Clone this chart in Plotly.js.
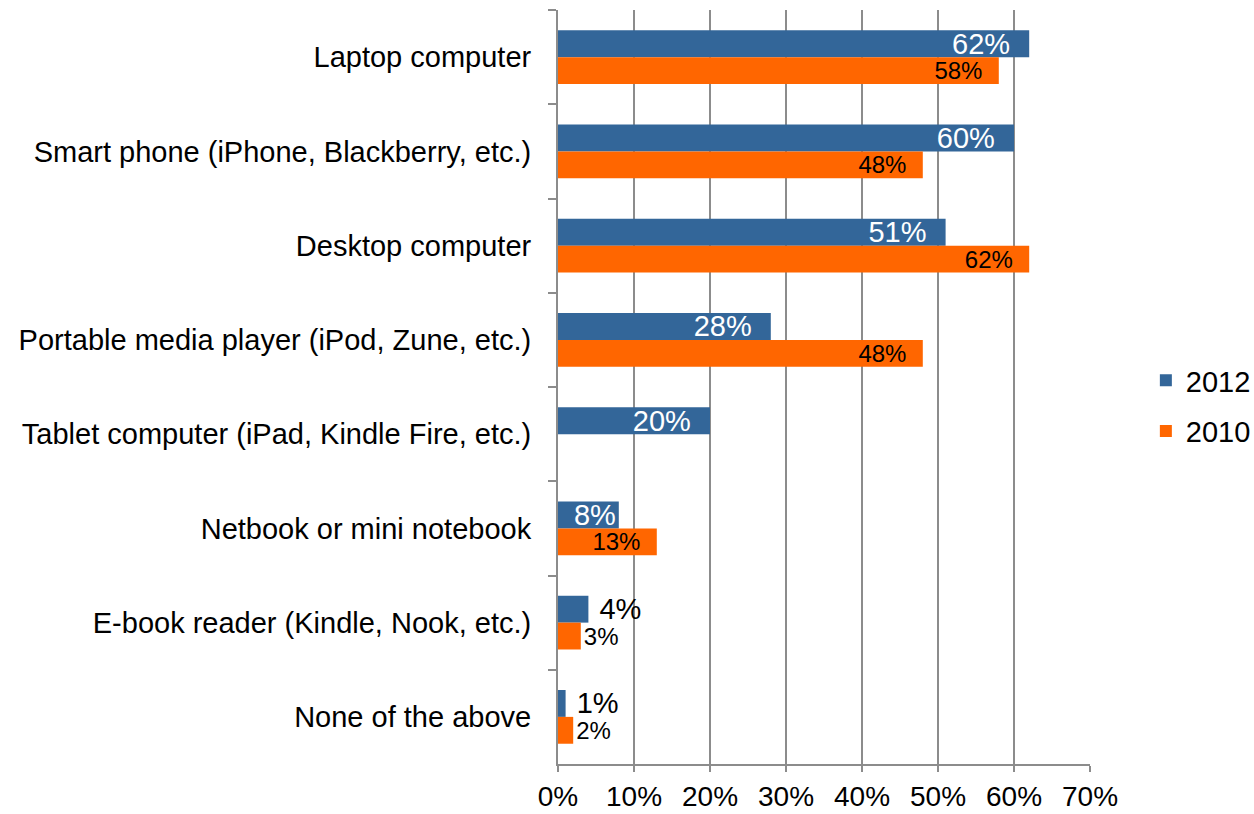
<!DOCTYPE html>
<html>
<head>
<meta charset="utf-8">
<script src="https://cdn.plot.ly/plotly-3.0.1.min.js"></script>
<style>html,body{margin:0;padding:0;background:#fff;}#chart{width:1254px;height:814px;}</style>
</head>
<body>
<div id="chart"></div>
<script>
const categories = [
  "Laptop computer",
  "Smart phone (iPhone, Blackberry, etc.)",
  "Desktop computer",
  "Portable media player (iPod, Zune, etc.)",
  "Tablet computer (iPad, Kindle Fire, etc.)",
  "Netbook or mini notebook",
  "E-book reader (Kindle, Nook, etc.)",
  "None of the above"
];
const values2012 = [62, 60, 51, 28, 20, 8, 4, 1];
const values2010 = [58, 48, 62, 48, null, 13, 3, 2];
const seriesNames = ["2012", "2010"];
const tickValues = [0, 10, 20, 30, 40, 50, 60, 70];
const tickLabels = ["0%", "10%", "20%", "30%", "40%", "50%", "60%", "70%"];

const FONT = "Liberation Sans, Arial, sans-serif";
const NB = "\u00a0";
const INSIDE_MIN = 8;
function positions(vals){ return vals.map(v => (v != null && v >= INSIDE_MIN) ? "inside" : "outside"); }
function labels(vals, outsidePad){
  return vals.map(v => {
    if (v == null) return "";
    if (v >= 10) return v + "%" + NB + NB;
    if (v >= INSIDE_MIN) return v + "%";
    return outsidePad + v + "%";
  });
}

const trace2012 = {
  type: "bar", orientation: "h", name: seriesNames[0], legendgroup: "a",
  y: categories, x: values2012,
  marker: {color: "#336699"},
  text: labels(values2012, NB),
  textposition: positions(values2012),
  insidetextanchor: "end",
  constraintext: "none",
  cliponaxis: false,
  insidetextfont: {family: FONT, size: 29, color: "#ffffff"},
  outsidetextfont: {family: FONT, size: 29, color: "#000000"},
  hoverinfo: "x+y"
};
const trace2010 = {
  type: "bar", orientation: "h", name: seriesNames[1], legendgroup: "b",
  y: categories, x: values2010,
  marker: {color: "#FF6600"},
  text: labels(values2010, ""),
  textposition: positions(values2010),
  insidetextanchor: "end",
  constraintext: "none",
  cliponaxis: false,
  insidetextfont: {family: FONT, size: 24, color: "#000000"},
  outsidetextfont: {family: FONT, size: 24, color: "#000000"},
  hoverinfo: "x+y"
};

const layout = {
  width: 1254, height: 814,
  margin: {l: 558, r: 164, t: 10, b: 50, autoexpand: false},
  paper_bgcolor: "#ffffff", plot_bgcolor: "#ffffff",
  font: {family: FONT, size: 24, color: "#000000"},
  barmode: "group",
  bargap: 0.43,
  bargroupgap: 0,
  showlegend: true,
  legend: {
    x: 1.105, y: 0.475, xanchor: "left", yanchor: "middle",
    traceorder: "grouped",
    tracegroupgap: 10,
    font: {family: FONT, size: 29, color: "#000000"},
    itemwidth: 30
  },
  xaxis: {
    range: [0, 70],
    tickvals: tickValues, ticktext: tickLabels,
    showgrid: true, gridcolor: "#8c8c8c", gridwidth: 2,
    showline: true, linecolor: "#8c8c8c", linewidth: 2,
    ticks: "outside", ticklen: 6, tickcolor: "#8c8c8c", tickwidth: 2,
    zeroline: false,
    tickfont: {family: FONT, size: 28, color: "#000000"},
    fixedrange: true
  },
  yaxis: {
    type: "category",
    autorange: "reversed",
    showgrid: false,
    showline: true, linecolor: "#8c8c8c", linewidth: 2,
    ticks: "outside", ticklen: 8, tickcolor: "#8c8c8c", tickwidth: 2,
    tickson: "boundaries",
    ticklabelstandoff: 19,
    tickfont: {family: FONT, size: 29, color: "#000000"},
    fixedrange: true
  }
};

Plotly.newPlot("chart", [trace2012, trace2010], layout, {displayModeBar: false, staticPlot: true});
</script>
</body>
</html>
